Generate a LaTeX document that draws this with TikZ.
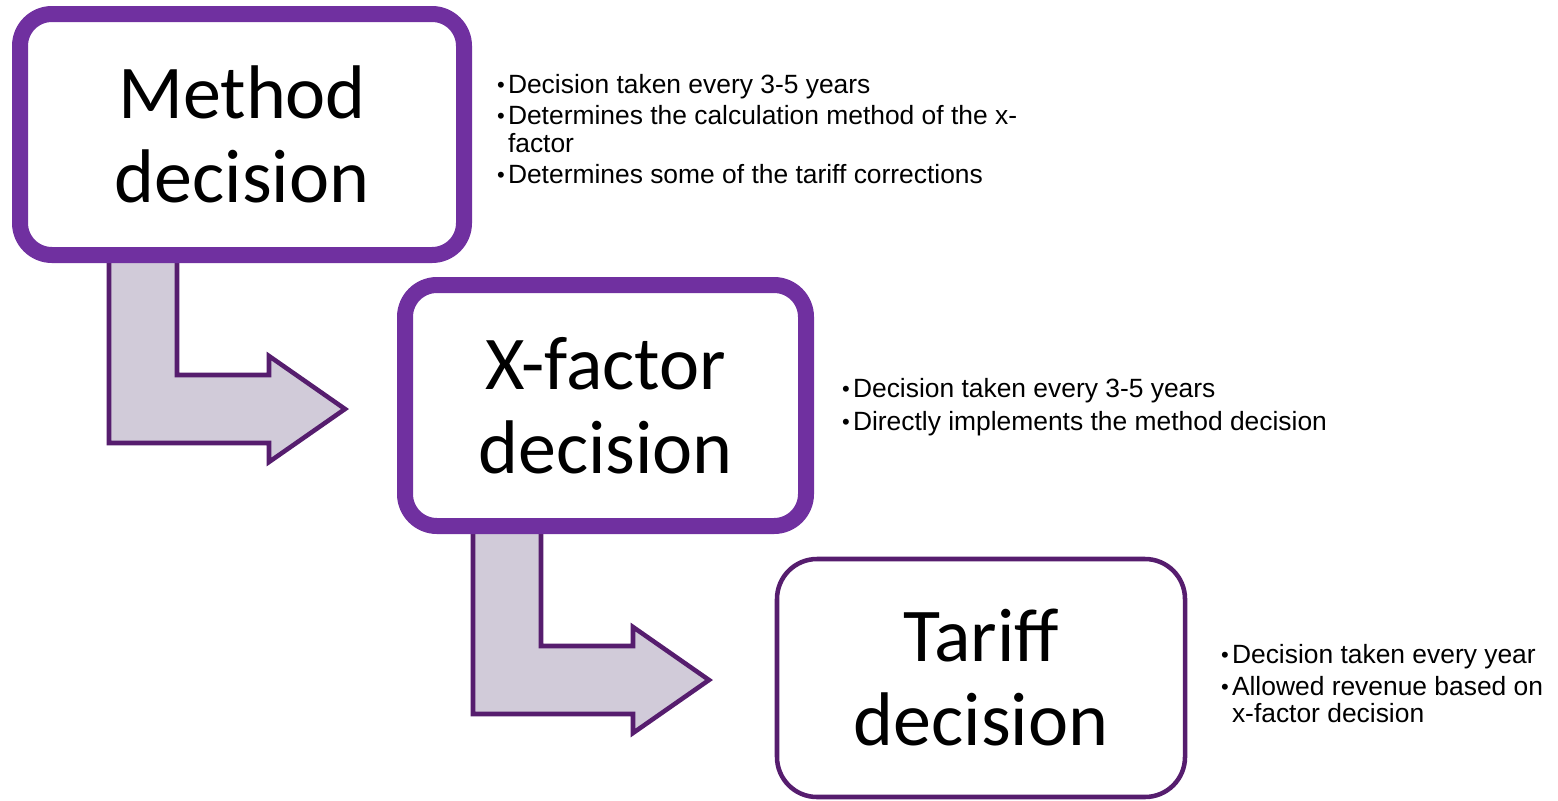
\documentclass[tikz,border=0pt]{standalone}
\usepackage{fontspec}
\setmainfont{Liberation Sans}
\newfontfamily\titlefont{Carlito}
\usetikzlibrary{calc}
\definecolor{boxpurple}{HTML}{7030A0}
\definecolor{darkpurple}{HTML}{561D6E}
\definecolor{arrowfill}{HTML}{D1CBD9}
% one pixel of the drawing grid is 0.75pt; y grows downwards
\newcommand\bentarrow[1]{%
  \draw[flowarrow] (#1) -- ++(0,188) -- ++(160,0) -- ++(0,19) -- ++(76,-53)
    -- ++(-76,-53) -- ++(0,19) -- ++(-92,0) -- ++(0,-120) -- cycle;}
% small bullet followed by a hanging gap
\newcommand\bul{\makebox[8.25pt][l]{\raisebox{0.5pt}{\fontsize{16.5}{16.5}\selectfont\textbullet}}}
\begin{document}
\begin{tikzpicture}[x=0.75pt,y=-0.75pt,
  decbox/.style={draw=boxpurple, line width=12pt, rounded corners=24pt,
    fill=white, inner sep=0pt, outer sep=0pt, align=center,
    font=\titlefont\fontsize{57}{63}\selectfont},
  lastbox/.style={decbox, draw=darkpurple, line width=3.4pt, rounded corners=30pt},
  flowarrow/.style={draw=darkpurple, fill=arrowfill, line width=3.4pt, line join=miter},
  note/.style={anchor=base west, inner sep=0pt, outer sep=0pt,
    font=\fontsize{19.8}{23}\selectfont}]
\useasboundingbox (0,0) rectangle (1558,800);

% bent block arrows leading from one decision to the next
\coordinate (a1) at (109,255);
\coordinate (a2) at (473,526);
\bentarrow{a1}
\bentarrow{a2}

% decision boxes
\node[decbox, minimum width=333pt, minimum height=180.75pt] (method) at (242,134.5)
  {Method\\decision};
\node[decbox, minimum width=300.75pt, minimum height=180.75pt] (xfactor) at (605.5,405.5)
  {X-factor\\decision};
\node[lastbox, minimum width=306pt, minimum height=178.5pt] (tariff) at (981,678)
  {Tariff\\decision};

% notes beside the method decision
\node[note] (m1) at (497,93)  {\bul Decision taken every 3-5 years};
\node[note] (m2) at (497,124) {\bul Determines the calculation method of the x-};
\node[note] (m3) at (508,152) {factor};
\node[note] (m4) at (497,183) {\bul Determines some of the tariff corrections};

% notes beside the x-factor decision
\node[note] (x1) at (842,397) {\bul Decision taken every 3-5 years};
\node[note] (x2) at (842,430) {\bul Directly implements the method decision};

% notes beside the tariff decision
\node[note] (t1) at (1221,663) {\bul Decision taken every year};
\node[note] (t2) at (1221,695) {\bul Allowed revenue based on};
\node[note] (t3) at (1232,722) {x-factor decision};
\end{tikzpicture}
\end{document}
